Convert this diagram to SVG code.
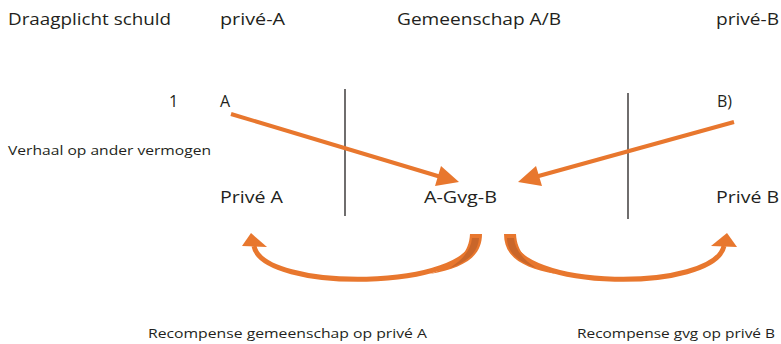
<svg xmlns="http://www.w3.org/2000/svg" width="781" height="344" viewBox="0 0 781 344">
  <style>
    text { font-family: "Open Sans", "Liberation Sans", sans-serif; fill: #231f20; }
    .lg { font-size: 16px; }
    .sm { font-size: 13px; }
    .divider { stroke: #231f20; stroke-width: 1.3; fill: none; }
    .flow { stroke: #e8772e; stroke-width: 4; fill: none; }
    .bow { stroke: #e8772e; stroke-width: 5; fill: none; stroke-linecap: butt; }
    .head { fill: #e8772e; }
    .shade { fill: #c9662a; }
  </style>

  <!-- column headers -->
  <g id="headers">
    <text class="lg" x="8" y="25" textLength="163" lengthAdjust="spacingAndGlyphs">Draagplicht schuld</text>
    <text class="lg" x="220" y="25" textLength="65" lengthAdjust="spacingAndGlyphs">privé-A</text>
    <text class="lg" x="397" y="25" textLength="164" lengthAdjust="spacingAndGlyphs">Gemeenschap A/B</text>
    <text class="lg" x="716" y="25" textLength="63" lengthAdjust="spacingAndGlyphs">privé-B</text>
  </g>

  <g id="row-label">
    <text class="lg" x="169" y="107">1</text>
    <text class="sm" x="8" y="155" textLength="203" lengthAdjust="spacingAndGlyphs">Verhaal op ander vermogen</text>
  </g>

  <!-- nodes -->
  <g id="node-a"><text class="lg" x="220" y="107">A</text></g>
  <g id="node-b"><text class="lg" x="717" y="107">B)</text></g>
  <g id="node-prive-a"><text class="lg" x="220" y="203" textLength="63" lengthAdjust="spacingAndGlyphs">Privé A</text></g>
  <g id="node-gvg"><text class="lg" x="424" y="203" textLength="73" lengthAdjust="spacingAndGlyphs">A-Gvg-B</text></g>
  <g id="node-prive-b"><text class="lg" x="716" y="203" textLength="63" lengthAdjust="spacingAndGlyphs">Privé B</text></g>

  <g id="footer">
    <text class="sm" x="148" y="338" textLength="279" lengthAdjust="spacingAndGlyphs">Recompense gemeenschap op privé A</text>
    <text class="sm" x="577" y="338" textLength="198" lengthAdjust="spacingAndGlyphs">Recompense gvg op privé B</text>
  </g>

  <!-- column dividers -->
  <g id="dividers">
    <line class="divider" x1="345" y1="89" x2="345" y2="216"/>
    <line class="divider" x1="628" y1="93" x2="628" y2="219"/>
  </g>

  <g id="connectors">
    <!-- straight flows into the community -->
    <line class="flow" x1="231" y1="114" x2="441" y2="177"/>
    <polygon class="head" points="459,182 435,186 441,166"/>
    <line class="flow" x1="734" y1="122" x2="535" y2="177"/>
    <polygon class="head" points="518,182 536,166 542,186"/>

    <!-- recompense bows -->
    <path class="bow" d="M476,236 C472,292 262,292 254,246"/>
    <path class="head" d="M470,234 L482,234 C482,258 462,268 430,274 C455,265 469,255 470,234 Z"/>
    <path class="shade" d="M472,238 L479,238 C478,254 466,262 450,268 C463,259 471,250 472,238 Z"/>
    <polygon class="head" points="251,233 242,246 267,247"/>

    <path class="bow" d="M510,236 C514,292 714,292 724,246"/>
    <path class="head" d="M504,234 L516,234 C517,255 531,265 556,274 C524,268 504,258 504,234 Z"/>
    <path class="shade" d="M507,238 L514,238 C515,250 523,259 536,268 C520,262 507,254 507,238 Z"/>
    <polygon class="head" points="727,233 737,247 711,246"/>
  </g>
</svg>
